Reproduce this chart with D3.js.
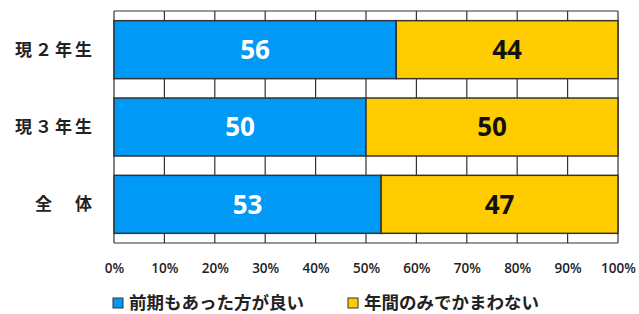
<!DOCTYPE html>
<html>
<head>
<meta charset="utf-8">
<script src="https://cdn.jsdelivr.net/npm/d3@7"></script>
<style>
  body { margin: 0; background: #fff; }
</style>
</head>
<body>
<div id="chart"></div>
<script>
// categories + series
var categories = ["現２年生", "現３年生", "全　体"];
var seriesNames = ["前期もあった方が良い", "年間のみでかまわない"];
var earlier = [56, 50, 53];
var yearOnly = [44, 50, 47];
var tickValues = [0, 10, 20, 30, 40, 50, 60, 70, 80, 90, 100];

var colors = ["#0099f6", "#ffcc00"];

var w = 639, h = 314;
var plotLeft = 114, plotRight = 618, plotTop = 11, plotBottom = 243;

var svg = d3.select("#chart").append("svg")
  .attr("width", w)
  .attr("height", h)
  .style("font-family", "'Noto Sans CJK JP', 'Open Sans', sans-serif");

var xScale = d3.scaleLinear().domain([0, 100]).range([plotLeft, plotRight]);
var yScale = d3.scaleBand().domain(categories).range([plotTop, plotBottom]).paddingInner(0.25).paddingOuter(0.125);

// gridlines
svg.append("g")
  .selectAll("line")
  .data(tickValues)
  .enter()
  .append("line")
  .attr("x1", function(d) { return xScale(d); })
  .attr("x2", function(d) { return xScale(d); })
  .attr("y1", plotTop)
  .attr("y2", plotBottom)
  .attr("stroke", "#333")
  .attr("stroke-width", 1.2);

svg.append("line")
  .attr("x1", plotLeft).attr("x2", plotRight)
  .attr("y1", plotTop).attr("y2", plotTop)
  .attr("stroke", "#333").attr("stroke-width", 1.2);
svg.append("line")
  .attr("x1", plotLeft).attr("x2", plotRight)
  .attr("y1", plotBottom).attr("y2", plotBottom)
  .attr("stroke", "#333").attr("stroke-width", 1.2);

var rows = categories.map(function(c, i) {
  return [
    { cat: c, x0: 0, x1: earlier[i], v: earlier[i], s: 0 },
    { cat: c, x0: earlier[i], x1: earlier[i] + yearOnly[i], v: yearOnly[i], s: 1 }
  ];
});
var segs = [].concat.apply([], rows);

svg.selectAll("rect.seg")
  .data(segs)
  .enter()
  .append("rect")
  .attr("class", "seg")
  .attr("x", function(d) { return xScale(d.x0); })
  .attr("y", function(d) { return yScale(d.cat); })
  .attr("width", function(d) { return xScale(d.x1) - xScale(d.x0); })
  .attr("height", yScale.bandwidth())
  .attr("fill", function(d) { return colors[d.s]; })
  .attr("stroke", "#333")
  .attr("stroke-width", 1.5);

svg.selectAll("text.val")
  .data(segs)
  .enter()
  .append("text")
  .attr("class", "val")
  .attr("x", function(d) { return (xScale(d.x0) + xScale(d.x1)) / 2; })
  .attr("y", function(d) { return yScale(d.cat) + yScale.bandwidth() / 2; })
  .attr("dy", "0.36em")
  .attr("text-anchor", "middle")
  .style("font-family", "'Open Sans', sans-serif")
  .style("font-weight", "bold")
  .style("font-size", "26px")
  .attr("fill", function(d) { return d.s == 0 ? "#fff" : "#111"; })
  .text(function(d) { return d.v; });

// category labels
svg.selectAll("text.cat")
  .data(categories)
  .enter()
  .append("text")
  .attr("class", "cat")
  .attr("x", 95)
  .attr("y", function(d) { return yScale(d) + yScale.bandwidth() / 2; })
  .attr("dy", "0.36em")
  .attr("text-anchor", "end")
  .style("font-weight", "bold")
  .style("font-size", "17px")
  .style("letter-spacing", "3px")
  .attr("fill", "#222")
  .text(function(d) { return d; });

// x axis labels
var xAxis = d3.axisBottom(xScale)
  .tickValues(tickValues)
  .tickSize(0)
  .tickPadding(0)
  .tickFormat(function(d) { return d + "%"; });

var ax = svg.append("g")
  .attr("transform", "translate(0," + 263 + ")")
  .call(xAxis);
ax.select(".domain").remove();
ax.selectAll("text")
  .style("font-family", "'Open Sans', sans-serif")
  .style("font-size", "13.5px")
  .style("font-weight", "600")
  .attr("fill", "#222");

// legend
var legendX = [113, 348];
var lg = svg.selectAll("g.lg")
  .data(seriesNames)
  .enter()
  .append("g")
  .attr("class", "lg")
  .attr("transform", function(d, i) { return "translate(" + legendX[i] + ",298)"; });
lg.append("rect")
  .attr("width", 10).attr("height", 10)
  .attr("fill", function(d, i) { return colors[i]; })
  .attr("stroke", "#333").attr("stroke-width", 1);
lg.append("text")
  .attr("x", 16)
  .attr("y", 5)
  .attr("dy", "0.36em")
  .style("font-weight", "bold")
  .style("font-size", "17.5px")
  .attr("fill", "#222")
  .text(function(d) { return d; });
</script>
</body>
</html>
